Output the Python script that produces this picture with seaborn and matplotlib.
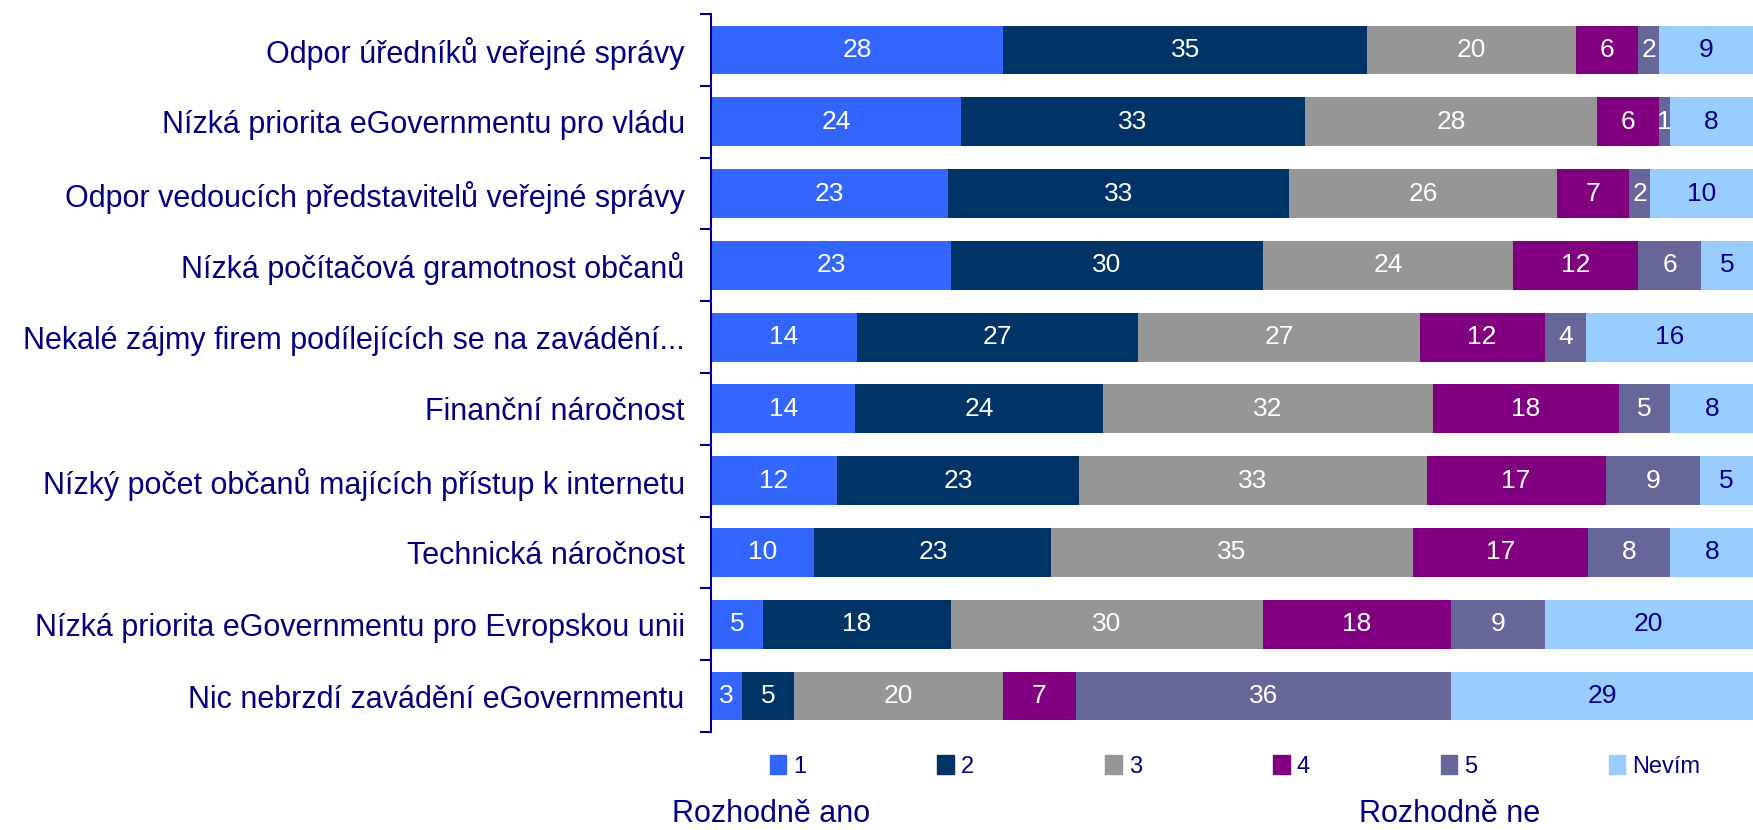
import numpy as np
import pandas as pd
import matplotlib.pyplot as plt
import matplotlib.patches as mpatches
import seaborn as sns

# Data (percentages)
categories = [
    'Odpor úředníků veřejné správy',
    'Nízká priorita eGovernmentu pro vládu',
    'Odpor vedoucích představitelů veřejné správy',
    'Nízká počítačová gramotnost občanů',
    'Nekalé zájmy firem podílejících se na zavádění...',
    'Finanční náročnost',
    'Nízký počet občanů majících přístup k internetu',
    'Technická náročnost',
    'Nízká priorita eGovernmentu pro Evropskou unii',
    'Nic nebrzdí zavádění eGovernmentu',
]
answers = ['1', '2', '3', '4', '5', 'Nevím']
v1 = [28, 24, 23, 23, 14, 14, 12, 10, 5, 3]
v2 = [35, 33, 33, 30, 27, 24, 23, 23, 18, 5]
v3 = [20, 28, 26, 24, 27, 32, 33, 35, 30, 20]
v4 = [6, 6, 7, 12, 12, 18, 17, 17, 18, 7]
v5 = [2, 1, 2, 6, 4, 5, 9, 8, 9, 36]
nevim = [9, 8, 10, 5, 16, 8, 5, 8, 20, 29]

colors = ['#3366FF', '#003366', '#969696', '#800080', '#666699', '#99CCFF']
text_colors = ['white', 'white', 'white', 'white', 'white', '#000080']
navy = '#000080'

df = pd.DataFrame({'1': v1, '2': v2, '3': v3, '4': v4, '5': v5, 'Nevím': nevim},
                  index=categories)
# Shares scaled to 100 % so every bar fills the axis
share = df.div(df.sum(axis=1), axis=0) * 100
cum = share.cumsum(axis=1)

sns.set_style('white')
plt.rcParams['font.family'] = ['Liberation Sans', 'DejaVu Sans']

fig = plt.figure(figsize=(17.53, 8.30), dpi=100)
ax = fig.add_axes([0.4056, 0.1181, 0.5944, 0.8650])

# Stacked bars: draw cumulative totals from the last series to the first
for ans, col in reversed(list(zip(answers, colors))):
    sns.barplot(x=cum[ans].values, y=categories, orient='h', color=col,
                width=0.68, ax=ax, saturation=1, linewidth=0)

# Value labels in the middle of each segment
for j, ans in enumerate(answers):
    for i, cat in enumerate(categories):
        mid = cum[ans].iloc[i] - share[ans].iloc[i] / 2
        ax.text(mid, i, str(df[ans].iloc[i]), ha='center', va='center',
                color=text_colors[j], fontsize=19)

ax.set_xlim(0, 100)
ax.set_ylim(len(categories) - 0.5, -0.5)
ax.set_xlabel('')
ax.set_ylabel('')
ax.set_xticks([])

# Category labels without tick marks, tick marks between categories
ax.set_yticks(range(len(categories)))
ax.set_yticklabels(categories, fontsize=22, color=navy)
ax.tick_params(axis='y', which='major', length=0, pad=19)
ax.set_yticks(np.arange(-0.5, len(categories), 1), minor=True)
ax.tick_params(axis='y', which='minor', length=8, width=1.5, color=navy,
               direction='out', left=True)

for side in ['top', 'right', 'bottom']:
    ax.spines[side].set_visible(False)
ax.spines['left'].set_color(navy)
ax.spines['left'].set_linewidth(1.5)

handles = [mpatches.Patch(color=c, label=a) for a, c in zip(answers, colors)]
leg = fig.legend(handles=handles, ncol=6, loc='lower left',
                 bbox_to_anchor=(0.439, 0.063, 0.531, 0.04), mode='expand',
                 frameon=False, fontsize=17, handlelength=0.7,
                 handleheight=0.9, handletextpad=0.3, borderaxespad=0,
                 borderpad=0)
for t in leg.get_texts():
    t.set_color(navy)

fig.text(0.440, 0.019, 'Rozhodně ano', ha='center', va='center',
         fontsize=22, color=navy)
fig.text(0.827, 0.019, 'Rozhodně ne', ha='center', va='center',
         fontsize=22, color=navy)

fig.savefig('out.png', dpi=100)
